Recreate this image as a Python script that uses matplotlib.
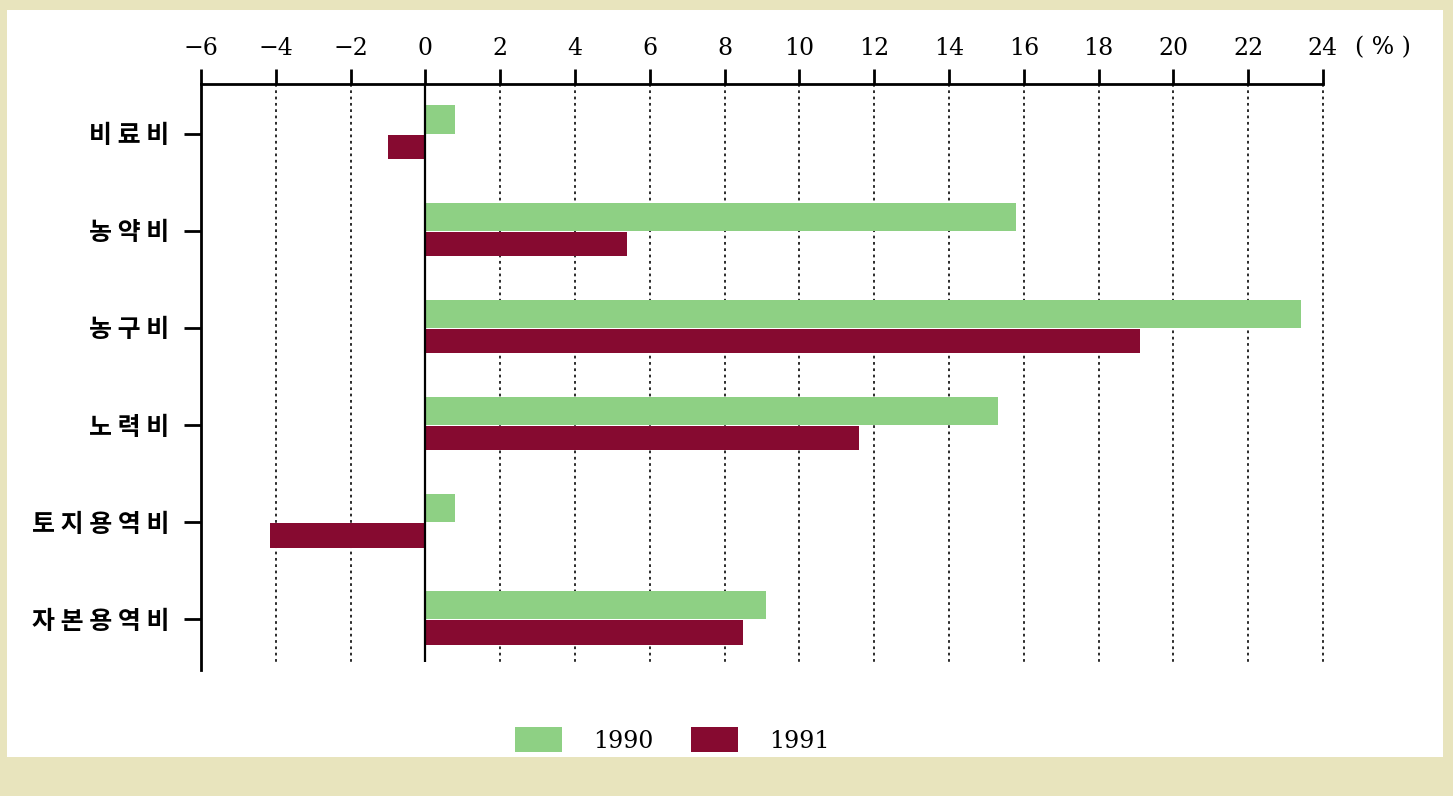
import matplotlib.pyplot as plt
import numpy as np
from matplotlib.patches import Rectangle, Patch

# data (% change)
categories = ['비료비', '농약비', '농구비', '노력비', '토지용역비', '자본용역비']
v1990 = [0.8, 15.8, 23.4, 15.3, 0.8, 9.1]
v1991 = [-1.0, 5.4, 19.1, 11.6, -4.15, 8.5]
xticks = [-6, -4, -2, 0, 2, 4, 6, 8, 10, 12, 14, 16, 18, 20, 22, 24]

green = '#8ed084'
red = '#860a30'
beige = '#e8e4bd'

fig = plt.figure(figsize=(14.53, 7.96), dpi=100, facecolor=beige)
# white inner panel
fig.patches.append(Rectangle((7/1453, 1-757/796), 1436/1453, 747/796,
                             transform=fig.transFigure, facecolor='white',
                             edgecolor='none', zorder=-1))

ax = fig.add_axes([201/1453, 1-670/796, 1122/1453, 586/796])
ax.set_zorder(2)
ax.set_facecolor('none')

y = np.arange(len(categories))
ax.barh(y - 0.145, v1990, height=0.29, color=green, zorder=3)
ax.barh(y + 0.135, v1991, height=0.25, color=red, zorder=3)

ax.set_xlim(-6, 24)
ax.set_ylim(5.52, -0.51)

# dotted grid + zero line
grid_x = [t for t in xticks if t not in (-6, 0)]
ax.vlines(grid_x, -0.51, 5.44, colors='#1a1a1a', linestyles=(0, (1.5, 2)), lw=1.3,
          zorder=1, clip_on=False)
ax.vlines(0, -0.51, 5.44, colors='black', lw=1.6, zorder=4)

for s in ['right', 'bottom']:
    ax.spines[s].set_visible(False)
for s in ['top', 'left']:
    ax.spines[s].set_linewidth(2)

ax.xaxis.tick_top()
ax.set_xticks(xticks)
ax.set_xticklabels([str(t).replace('-', '\u2212') for t in xticks],
                   family='DejaVu Serif', fontsize=17)
ax.tick_params(axis='x', direction='out', length=11, width=2, pad=6)

ax.set_yticks(y)
ax.set_yticklabels([' '.join(c) for c in categories],
                   family=['Noto Sans CJK KR', 'DejaVu Sans'],
                   fontsize=18, fontweight='bold')
ax.tick_params(axis='y', direction='out', length=12, width=2, pad=11)

fig.text(1355/1453, 1-48/796, '( % )', family='DejaVu Serif', fontsize=17,
         ha='left', va='center')

handles = [Patch(facecolor=green, edgecolor='none'), Patch(facecolor=red, edgecolor='none')]
fig.legend(handles, ['1990', '1991'], loc='center', bbox_to_anchor=(672/1453, 1-740/796),
           ncol=2, frameon=False, handlelength=2.0, handleheight=1.2,
           handletextpad=1.3, columnspacing=1.6,
           prop={'family': 'DejaVu Serif', 'size': 17})

fig.savefig('out.png', dpi=100, facecolor=beige)
